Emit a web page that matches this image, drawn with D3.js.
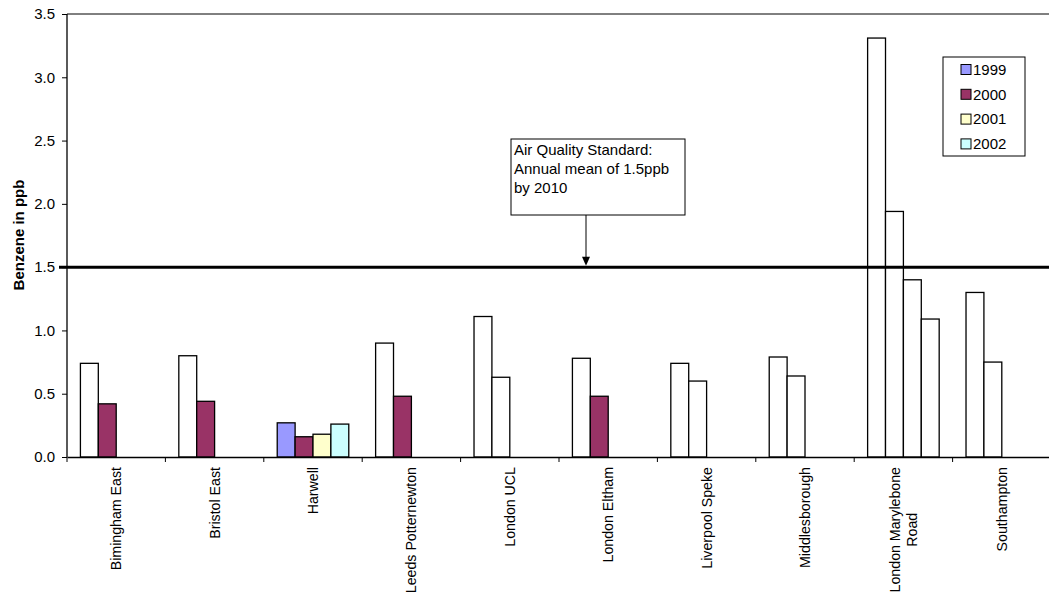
<!DOCTYPE html>
<html>
<head>
  <meta charset="utf-8">
  <title>Benzene</title>
  <style>
    body { margin: 0; background: #fff; }
    svg { display: block; font-family: "Liberation Sans", Arial, sans-serif; }
  </style>
</head>
<body>
  <div id="chart"></div>
  <script src="https://cdn.jsdelivr.net/npm/d3@7"></script>
  <script>
    // data
    const categories = ['Bimingham East', 'Bristol East', 'Harwell', 'Leeds Potternewton', 'London UCL',
      'London Eltham', 'Liverpool Speke', 'Middlesborough', 'London Marylebone\nRoad', 'Southampton'];
    const years = ['1999', '2000', '2001', '2002'];
    const v1999 = [0.74, 0.80, 0.27, 0.90, 1.11, 0.78, 0.74, 0.79, 3.31, 1.30];
    const v2000 = [0.42, 0.44, 0.16, 0.48, 0.63, 0.48, 0.60, 0.64, 1.94, 0.75];
    const v2001 = [null, null, 0.18, null, null, null, null, null, 1.40, null];
    const v2002 = [null, null, 0.26, null, null, null, null, null, 1.09, null];
    const yTicks = [0, 0.5, 1.0, 1.5, 2.0, 2.5, 3.0, 3.5];
    const standard = 1.5;
    const noteLines = ['Air Quality Standard:', 'Annual mean of 1.5ppb', 'by 2010'];

    // which points keep their series colour (the rest are drawn white)
    const coloured = {
      '1999': ['Harwell'],
      '2000': ['Bimingham East', 'Bristol East', 'Harwell', 'Leeds Potternewton', 'London Eltham'],
      '2001': ['Harwell'],
      '2002': ['Harwell']
    };

    const seriesValues = [v1999, v2000, v2001, v2002];
    const color = d3.scaleOrdinal().domain(years).range(['#9999ff', '#993366', '#ffffcc', '#ccffff']);

    function translate(x, y) { return 'translate(' + x + ',' + y + ')'; }

    const svgWidth = 1049, svgHeight = 596;
    const plotLeft = 67, plotRight = 1051, plotTop = 14, plotBottom = 457;

    const svg = d3.select('#chart').append('svg')
      .attr('width', svgWidth).attr('height', svgHeight);

    const x = d3.scaleBand().domain(categories).range([plotLeft, plotRight]).padding(0);
    const xi = d3.scaleBand().domain(years).range([0, x.bandwidth()])
      .paddingInner(0).paddingOuter(0.75);
    const y = d3.scaleLinear().domain([0, 3.5]).range([plotBottom, plotTop]);

    // top border
    svg.append('line')
      .attr('x1', plotLeft).attr('x2', plotRight).attr('y1', plotTop).attr('y2', plotTop)
      .attr('stroke', '#000').attr('stroke-width', 1);

    // bars
    const rows = [];
    categories.forEach(function (c, i) {
      years.forEach(function (yr, j) {
        const v = seriesValues[j][i];
        if (v != null) rows.push({ cat: c, year: yr, value: v });
      });
    });

    svg.append('g').selectAll('rect')
      .data(rows)
      .enter()
      .append('rect')
        .attr('x', d => x(d.cat) + xi(d.year))
        .attr('y', d => y(d.value))
        .attr('width', xi.bandwidth())
        .attr('height', d => plotBottom - y(d.value))
        .attr('fill', d => coloured[d.year].indexOf(d.cat) >= 0 ? color(d.year) : '#fff')
        .attr('stroke', '#000')
        .attr('stroke-width', 1.3);

    // y axis
    const yAxis = d3.axisLeft(y).tickValues(yTicks).tickFormat(d3.format('.1f'))
      .tickSize(5).tickPadding(7);
    const gy = svg.append('g').attr('transform', translate(plotLeft, 0)).call(yAxis);
    gy.select('.domain').attr('d', 'M0,' + plotTop + 'V' + plotBottom).attr('stroke-width', 1.3);
    gy.selectAll('text').attr('font-size', 15).attr('fill', '#000');
    gy.attr('font-family', null);

    // x axis
    const xAxis = d3.axisBottom(x).tickValues([]).tickSizeOuter(0);
    const gx = svg.append('g').attr('transform', translate(0, plotBottom)).call(xAxis);
    gx.select('.domain').attr('stroke-width', 1.3);
    gx.selectAll('.bound')
      .data(categories)
      .enter()
      .append('line')
        .attr('class', 'bound')
        .attr('x1', d => x(d)).attr('x2', d => x(d))
        .attr('y1', 0).attr('y2', 5)
        .attr('stroke', '#000');

    // rotated category labels
    categories.forEach(function (c) {
      const g = svg.append('g')
        .attr('transform', translate(x(c) + x.bandwidth() / 2, 467) + ' rotate(-90)');
      const lines = c.split('\n');
      const texts = lines.map(function (t, k) {
        return g.append('text')
          .attr('font-size', 14.2)
          .attr('text-anchor', 'middle')
          .attr('dy', ((k - (lines.length - 1) / 2) * 1.15 + 0.35) + 'em')
          .text(t);
      });
      const maxW = d3.max(texts, t => t.node().getComputedTextLength());
      texts.forEach(t => t.attr('x', -maxW / 2));
    });

    // y title
    svg.append('text')
      .attr('transform', translate(24, 235) + ' rotate(-90)')
      .attr('text-anchor', 'middle')
      .attr('font-size', 15)
      .attr('font-weight', 'bold')
      .text('Benzene in ppb');

    // standard line
    svg.append('line')
      .attr('x1', 59).attr('x2', plotRight)
      .attr('y1', y(standard)).attr('y2', y(standard))
      .attr('stroke', '#000').attr('stroke-width', 3);

    // note box and arrow
    svg.append('rect')
      .attr('x', 511).attr('y', 139).attr('width', 174).attr('height', 76)
      .attr('fill', '#fff').attr('stroke', '#000').attr('stroke-width', 1);
    svg.append('text')
      .attr('font-size', 15)
      .selectAll('tspan')
      .data(noteLines)
      .enter()
      .append('tspan')
        .attr('x', 514)
        .attr('y', (d, i) => 155 + i * 19)
        .text(d => d);

    const ay = y(standard) - 1.5;
    svg.append('line')
      .attr('x1', 586).attr('x2', 586).attr('y1', 215).attr('y2', ay - 6)
      .attr('stroke', '#000').attr('stroke-width', 1);
    svg.append('path')
      .attr('d', 'M582,' + (ay - 9) + 'L590,' + (ay - 9) + 'L586,' + ay + 'Z')
      .attr('fill', '#000');

    // legend
    const lg = svg.append('g').attr('transform', translate(943, 57));
    lg.append('rect')
      .attr('width', 82).attr('height', 99)
      .attr('fill', '#fff').attr('stroke', '#000').attr('stroke-width', 1);
    const item = lg.selectAll('.item')
      .data(years)
      .enter()
      .append('g')
        .attr('class', 'item')
        .attr('transform', (d, i) => translate(18, 12.5 + i * 24.8));
    item.append('rect')
      .attr('x', 0).attr('y', -5).attr('width', 10).attr('height', 10)
      .attr('fill', d => color(d)).attr('stroke', '#000').attr('stroke-width', 1);
    item.append('text')
      .attr('x', 12).attr('dy', '0.35em')
      .attr('font-size', 15)
      .text(d => d);
  </script>
</body>
</html>
